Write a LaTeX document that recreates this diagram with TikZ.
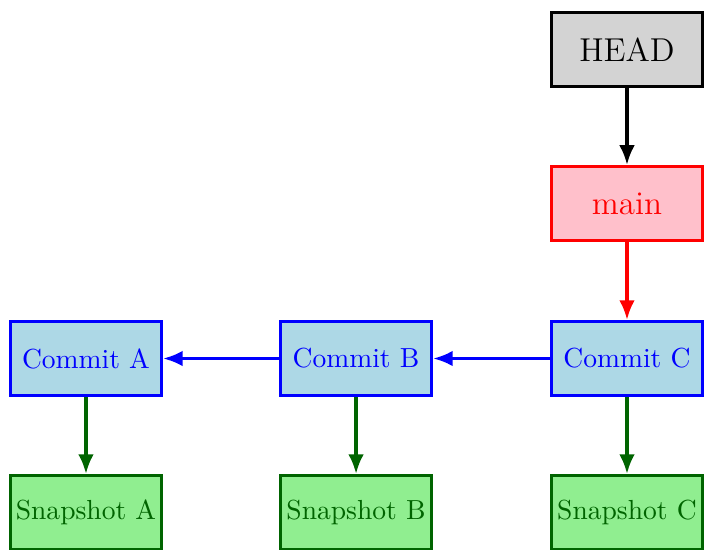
\documentclass[tikz,border=0pt]{standalone}
\usetikzlibrary{arrows.meta}
\definecolor{lgray}{RGB}{211,211,211}
\definecolor{pinkc}{RGB}{255,192,203}
\definecolor{lblue}{RGB}{173,216,230}
\definecolor{lgreen}{RGB}{144,238,144}
\definecolor{dgreen}{RGB}{0,100,0}
\begin{document}
\begin{tikzpicture}[
  box/.style={draw, line width=1pt, minimum width=1.93cm, minimum height=0.95cm, inner sep=2pt},
  headbox/.style={box, fill=lgray, draw=black, text=black, font=\large},
  branchbox/.style={box, fill=pinkc, draw=red, text=red, font=\large},
  commitbox/.style={box, fill=lblue, draw=blue, text=blue},
  snapbox/.style={box, fill=lgreen, draw=dgreen, text=dgreen},
  conn/.style={line width=1.2pt, -{Latex[length=2.5mm,width=2mm]}}
]
\useasboundingbox (0,0) rectangle (9,-7);
\node[headbox] (head) at (7.993,-0.631) {HEAD};
\node[branchbox] (main) at (7.993,-2.594) {main};
\node[commitbox] (ca) at (1.096,-4.570) {Commit A};
\node[commitbox] (cb) at (4.539,-4.570) {Commit B};
\node[commitbox] (cc) at (7.993,-4.570) {Commit C};
\node[snapbox] (sa) at (1.096,-6.534) {Snapshot A};
\node[snapbox] (sb) at (4.539,-6.534) {Snapshot B};
\node[snapbox] (sc) at (7.993,-6.534) {Snapshot C};
\draw[conn, black] (head) -- (main);
\draw[conn, red] (main) -- (cc);
\draw[conn, blue] (cc) -- (cb);
\draw[conn, blue] (cb) -- (ca);
\draw[conn, dgreen] (ca) -- (sa);
\draw[conn, dgreen] (cb) -- (sb);
\draw[conn, dgreen] (cc) -- (sc);
\end{tikzpicture}
\end{document}
